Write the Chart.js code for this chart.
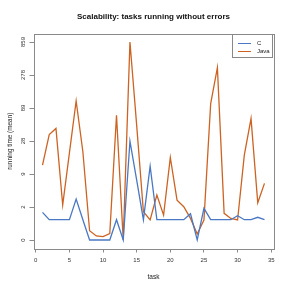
<!DOCTYPE html>
<html>
<head>
<meta charset="utf-8">
<script src="https://cdn.jsdelivr.net/npm/chart.js@4/dist/chart.umd.min.js"></script>
<style>
  html, body { margin: 0; padding: 0; background: #fff; }
  #wrap { position: relative; width: 291px; height: 291px; font-family: "Liberation Sans", Arial, sans-serif; }
  #title { position: absolute; left: 33.5px; width: 240px; top: 12px; text-align: center; font-weight: bold; font-size: 8px; line-height: 10px; color: #111; }
  #legend { position: absolute; left: 231.5px; top: 33.5px; width: 41px; height: 24.5px; border: 1px solid #888; background: #fff; box-sizing: border-box; }
  .lg-line { position: absolute; height: 1.4px; width: 13px; left: 5.5px; }
  .lg-text { position: absolute; left: 24.5px; font-size: 6px; line-height: 7px; color: #222; }
</style>
</head>
<body>
<div id="wrap">
  <canvas id="c" width="291" height="291"></canvas>
  <div id="title"></div>
  <div id="legend"></div>
</div>
<script>
// ---- data ----
const chartTitle = "Scalability: tasks running without errors";
const xTitle = "task";
const yTitle = "running time (mean)";
const tasks = [1,2,3,4,5,6,7,8,9,10,11,12,13,14,15,16,17,18,19,20,21,22,23,24,25,26,27,28,29,30,31,32,33,34];
const seriesNames = ["C", "Java"];
const seriesColors = ["#4a78c4", "#cc6323"];
const cTimes = [1.57,1,1,1,1,3.04,1,0,0,0,0,1,0,28.2,6.7,1,11.4,1,1,1,1,1,1.45,0,1.95,1,1,1,1,1.29,1,1,1.17,1];
const javaTimes = [11.9,35.6,44,2.3,18.6,114,19.3,0.37,0.15,0.12,0.25,69.7,0,859,49,1.62,0.98,3.63,1.34,15.7,2.9,2.11,1.09,0.23,0.98,104,358,1.48,1.09,0.98,17.1,62,2.56,5.9];
const yTickLabels = ["0","2","9","28","89","278","859"];
const xTickValues = [0,5,10,15,20,25,30,35];

// ---- transform: axis is log(time + 1), ticks equally spaced up to the max ----
const tMax = Math.log(859 + 1);
const yTickValues = yTickLabels.map((_, i) => i * tMax / (yTickLabels.length - 1));
const toT = v => Math.log(v + 1);
const seriesValues = [cTimes, javaTimes];

document.getElementById('title').textContent = chartTitle;
const lg = document.getElementById('legend');
seriesNames.forEach((n, i) => {
  const l = document.createElement('div');
  l.className = 'lg-line';
  l.style.top = (8.5 + i * 8) + 'px';
  l.style.background = seriesColors[i];
  lg.appendChild(l);
  const t = document.createElement('div');
  t.className = 'lg-text';
  t.style.top = (5.5 + i * 8) + 'px';
  t.textContent = n;
  lg.appendChild(t);
});

const boxPlugin = {
  id: 'box',
  beforeDatasetsDraw(chart) {
    const a = chart.chartArea, ctx = chart.ctx;
    ctx.save();
    ctx.strokeStyle = '#8a8a8a';
    ctx.lineWidth = 1;
    ctx.strokeRect(Math.round(a.left) + 0.5, Math.round(a.top) + 0.5, Math.round(a.right - a.left), Math.round(a.bottom - a.top));
    ctx.restore();
  }
};

new Chart(document.getElementById('c'), {
  type: 'line',
  data: {
    datasets: seriesNames.map((n, i) => ({
      label: n,
      data: tasks.map((x, j) => ({ x: x, y: toT(seriesValues[i][j]) })),
      borderColor: seriesColors[i],
      borderWidth: 1.3,
      pointRadius: 0,
      fill: false,
      tension: 0
    }))
  },
  options: {
    responsive: false,
    devicePixelRatio: 1,
    animation: false,
    layout: { padding: { left: 0, right: 17.5, top: 34, bottom: 0 } },
    plugins: { legend: { display: false }, tooltip: { enabled: false }, title: { display: false } },
    scales: {
      x: {
        type: 'linear',
        min: -0.34, max: 35.34,
        afterBuildTicks: s => { s.ticks = xTickValues.map(v => ({ value: v })); },
        afterFit: s => { s.height = 42.5; },
        ticks: { autoSkip: false, maxRotation: 0, font: { family: 'Liberation Sans', size: 6 }, color: '#333', padding: 4 },
        grid: { display: true, drawOnChartArea: false, drawTicks: true, tickLength: 4, color: '#8a8a8a' },
        border: { display: false },
        title: { display: true, text: xTitle, font: { family: 'Liberation Sans', size: 6.5 }, color: '#222', padding: { top: 0, bottom: 9.6 } }
      },
      y: {
        type: 'linear',
        min: -0.29, max: 7.03,
        afterBuildTicks: s => { s.ticks = yTickValues.map(v => ({ value: v })); },
        afterFit: s => { s.width = 33.5; },
        ticks: {
          autoSkip: false, minRotation: 90, maxRotation: 90, crossAlign: 'center',
          font: { family: 'Liberation Sans', size: 6 }, color: '#333', padding: 1,
          callback: (v, i) => yTickLabels[i]
        },
        grid: { display: true, drawOnChartArea: false, drawTicks: true, tickLength: 4, color: '#8a8a8a' },
        border: { display: false },
        title: { display: true, text: yTitle, font: { family: 'Liberation Sans', size: 6.4 }, color: '#222', padding: { top: 6, bottom: 0 } }
      }
    }
  },
  plugins: [boxPlugin]
});
</script>
</body>
</html>
